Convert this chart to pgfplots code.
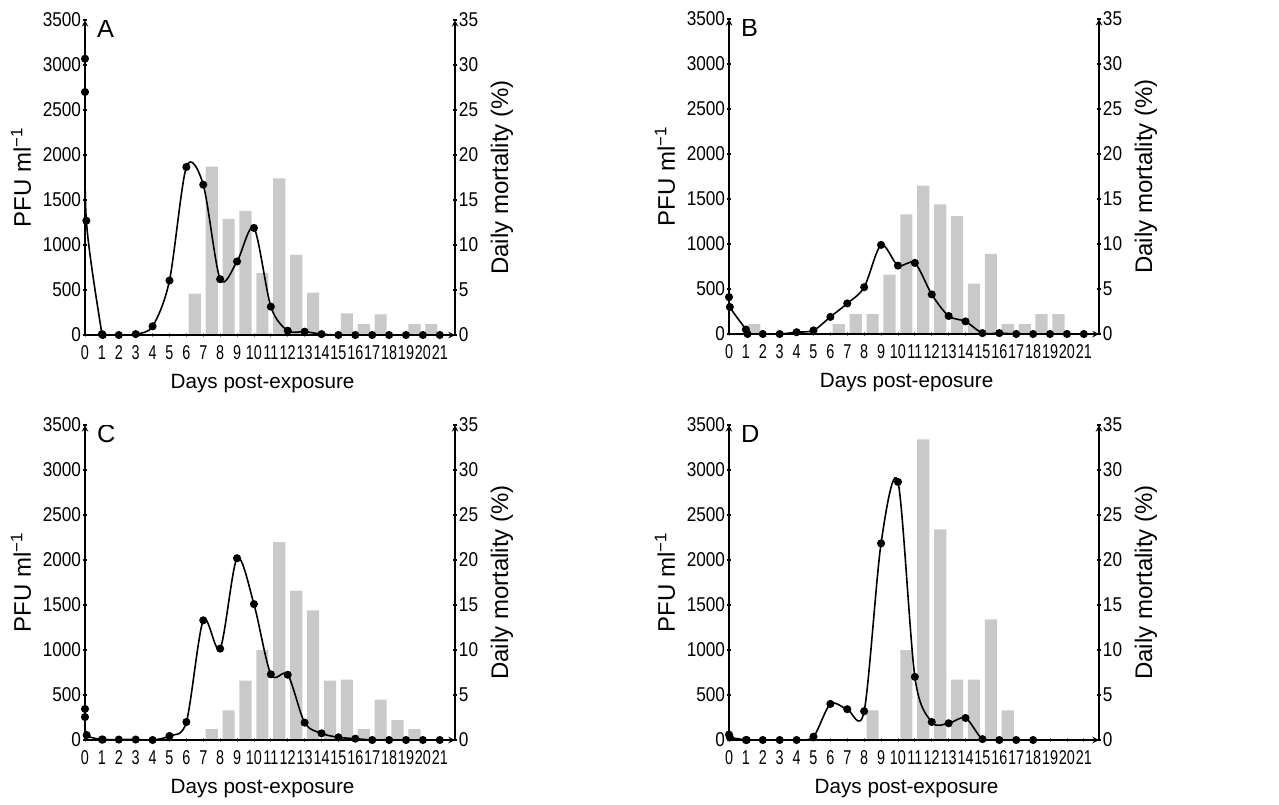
\documentclass[border=0pt]{standalone}
\usepackage{fontspec}
\setmainfont{Liberation Sans}
\usepackage{pgfplots}
\pgfplotsset{compat=1.18}
\definecolor{bargray}{RGB}{200,201,203}
\newcommand{\tf}{\fontsize{15}{18}\selectfont}
\newcommand{\xf}{\fontsize{15.5}{18}\selectfont}
\newcommand{\yf}{\fontsize{18}{21}\selectfont}
\newcommand{\lf}{\fontsize{19}{22}\selectfont}

\pgfplotsset{
  panel/.style={scale only axis, width=277.5pt, height=236.25pt,
    xmin=0, xmax=21.9, ymin=0,
    tick align=outside, major tick length=3pt,
    axis line style={-, line width=1.2pt, black},
    /pgf/number format/assume math mode=true,
    /pgf/number format/1000 sep={},
    ticklabel style={font=\tf, inner sep=1.5pt},
    yticklabel style={xscale=0.86}},
  pfu/.style={panel, axis x line=bottom, axis y line=left,
    ymax=3500, ytick={0,500,...,3500},
    xtick={0,...,21}, xticklabel style={xscale=0.72, yshift=-5pt},
    x tick style={gray, line width=0.6pt},
    y tick style={black, line width=0.8pt},
    xlabel={#1},
    every axis x label/.style={font=\xf, at={(axis description cs:0.48,0)}, anchor=base, yshift=-40pt},
    ylabel={PFU ml\textsuperscript{−1}},
    every axis y label/.style={font=\yf, rotate=90, at={(axis description cs:-0.173,0.5)}, anchor=center}},
  pfu/.default={Days post-exposure},
  mort/.style={panel, axis x line=none, axis y line=right,
    ymax=35, ytick={0,5,...,35}, xtick=\empty,
    y tick style={black, line width=0.8pt},
    ylabel={Daily mortality (\%)},
    every axis y label/.style={font=\yf, rotate=90, at={(axis description cs:1.127,0.5)}, anchor=center},
    ybar, bar width=0.72},
  virus/.style={black, line width=1.2pt, smooth, tension=0.5, mark=*, mark size=2.4pt, mark options={fill=black}},
  bars/.style={fill=bargray, draw=none},
}

\begin{document}
\begin{tikzpicture}
\useasboundingbox (0,0) rectangle (959.25pt,-603pt);

% ---- A ----
\begin{axis}[mort, at={(63.75pt,-251.25pt)}, anchor=south west]
\addplot[bars] coordinates {(6.5,4.6) (7.5,18.7) (8.5,12.9) (9.5,13.8) (10.5,6.9) (11.5,17.4) (12.5,8.9) (13.5,4.7) (15.5,2.4) (16.5,1.2) (17.5,2.3) (19.5,1.2) (20.5,1.2)};
\end{axis}
\begin{axis}[pfu, at={(63.75pt,-251.25pt)}, anchor=south west]
\addplot[virus] coordinates {(0,3070) (0,2700) (0.08,1270) (1,10) (1.05,0) (2,0) (3,10) (4,97) (5,605) (6,1867) (7,1670) (8,620) (9,817) (10,1190) (11,315) (12,48) (13,37) (14,10) (15,0) (16,0) (17,0) (18,0) (19,0) (20,0) (21,0)};
\node[anchor=north west, font=\lf, inner sep=0] at (rel axis cs:0.032,1) {A};
\end{axis}

% ---- B ----
\begin{axis}[mort, at={(546.75pt,-250.5pt)}, anchor=south west]
\addplot[bars] coordinates {(1.5,1.1) (6.5,1.1) (7.5,2.2) (8.5,2.2) (9.5,6.6) (10.5,13.3) (11.5,16.5) (12.5,14.4) (13.5,13.1) (14.5,5.6) (15.5,8.9) (16.5,1.1) (17.5,1.1) (18.5,2.2) (19.5,2.2)};
\end{axis}
\begin{axis}[pfu={Days post-eposure}, at={(546.75pt,-250.5pt)}, anchor=south west]
\addplot[virus] coordinates {(0,410) (0.05,300) (1,50) (1.1,0) (2,0) (3,0) (4,20) (5,40) (6,190) (7,340) (8,520) (9,990) (10,760) (11,790) (12,440) (13,200) (14,140) (15,10) (16,10) (17,0) (18,0) (19,0) (20,0) (21,0)};
\node[anchor=north west, font=\lf, inner sep=0] at (rel axis cs:0.032,1) {B};
\end{axis}

% ---- C ----
\begin{axis}[mort, at={(63.75pt,-555pt)}, anchor=south west]
\addplot[bars] coordinates {(7.5,1.2) (8.5,3.3) (9.5,6.6) (10.5,10) (11.5,22) (12.5,16.6) (13.5,14.4) (14.5,6.6) (15.5,6.7) (16.5,1.2) (17.5,4.5) (18.5,2.2) (19.5,1.2)};
\end{axis}
\begin{axis}[pfu, at={(63.75pt,-555pt)}, anchor=south west]
\addplot[virus] coordinates {(0,345) (0,255) (0.1,55) (1,5) (1.05,5) (2,5) (3,5) (4,0) (5,45) (6,200) (7,1330) (8,1015) (9,2020) (10,1510) (11,730) (12,725) (13,193) (14,74) (15,30) (16,15) (17,0) (18,0) (19,0) (20,0) (21,0)};
\node[anchor=north west, font=\lf, inner sep=0] at (rel axis cs:0.032,1) {C};
\end{axis}

% ---- D ----
\begin{axis}[mort, at={(546.75pt,-555pt)}, anchor=south west]
\addplot[bars] coordinates {(8.5,3.3) (10.5,10) (11.5,33.4) (12.5,23.4) (13.5,6.7) (14.5,6.7) (15.5,13.4) (16.5,3.3)};
\end{axis}
\begin{axis}[pfu, at={(546.75pt,-555pt)}, anchor=south west]
\addplot[virus] coordinates {(0,60) (0.05,30) (1,0) (1.05,0) (2,0) (3,0) (4,0) (5,37) (6,401) (7,342) (8,320) (9,2185) (10,2868) (11,702) (12,200) (13,186) (14,245) (15,10) (16,0) (17,0) (18,0)};
\node[anchor=north west, font=\lf, inner sep=0] at (rel axis cs:0.032,1) {D};
\end{axis}
\end{tikzpicture}
\end{document}
